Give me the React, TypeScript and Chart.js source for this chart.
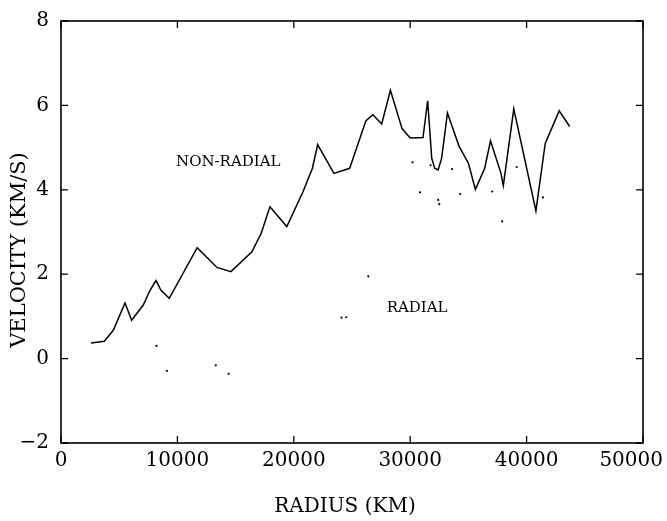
import React, { useEffect, useRef } from "react";
import { Chart, registerables } from "chart.js";

Chart.register(...registerables);

// Non-radial velocity curve (km vs km/s)
const nonRadialRadius = [
  2580, 3720, 4490, 5500, 6070, 7070, 7650, 8160, 8590, 9300,
  11700, 13400, 14600, 16400, 17200, 17950, 19400, 20800, 21600, 22050,
  23450, 24800, 26200, 26800, 27550, 28300, 29300, 30000, 31100, 31500,
  31850, 32100, 32400, 32700, 33200, 34200, 35000, 35600, 36400, 36900,
  37800, 38000, 38900, 40800, 41600, 42800, 43700,
];
const nonRadialVelocity = [
  0.37, 0.41, 0.67, 1.32, 0.91, 1.27, 1.62, 1.85, 1.62, 1.43,
  2.63, 2.16, 2.06, 2.53, 2.97, 3.6, 3.13, 3.96, 4.51, 5.07,
  4.39, 4.51, 5.64, 5.78, 5.56, 6.36, 5.45, 5.23, 5.24, 6.11,
  4.75, 4.51, 4.47, 4.75, 5.82, 5.03, 4.63, 4.01, 4.51, 5.16,
  4.39, 4.1, 5.92, 3.5, 5.1, 5.87, 5.5,
];

// Radial velocity points
const radialRadius = [
  8200, 9100, 13300, 14400, 24100, 24500, 26400, 30200, 30840, 31750,
  32400, 32500, 33600, 34300, 37050, 37900, 39150, 41400,
];
const radialVelocity = [
  0.3, -0.29, -0.16, -0.36, 0.97, 0.98, 1.95, 4.65, 3.94, 4.58,
  3.76, 3.66, 4.49, 3.9, 3.96, 3.25, 4.54, 3.82,
];

// Axis ticks
const xTickValues = [0, 10000, 20000, 30000, 40000, 50000];
const yTickValues = [-2, 0, 2, 4, 6, 8];

// In-plot labels
const labelTexts = ["NON-RADIAL", "RADIAL"];
const labelRadius = [9880, 27980];
const labelVelocity = [4.66, 1.19];

const xTitle = "RADIUS (KM)";
const yTitle = "VELOCITY (KM/S)";

const SERIF = '"DejaVu Serif", serif';

const framePlugin = {
  id: "frameAndText",
  afterDraw(chart: any) {
    const { ctx, chartArea: a, scales } = chart;
    const xs = scales.x;
    const ys = scales.y;
    ctx.save();
    ctx.strokeStyle = "#000";
    ctx.fillStyle = "#000";
    ctx.lineWidth = 1.6;
    ctx.strokeRect(a.left, a.top, a.right - a.left, a.bottom - a.top);

    const tl = 7;
    ctx.lineWidth = 1.3;
    ctx.beginPath();
    for (const v of xTickValues) {
      const px = xs.getPixelForValue(v);
      ctx.moveTo(px, a.bottom);
      ctx.lineTo(px, a.bottom - tl);
      ctx.moveTo(px, a.top);
      ctx.lineTo(px, a.top + tl);
    }
    for (const v of yTickValues) {
      const py = ys.getPixelForValue(v);
      ctx.moveTo(a.left, py);
      ctx.lineTo(a.left + tl, py);
      ctx.moveTo(a.right, py);
      ctx.lineTo(a.right - tl, py);
    }
    ctx.stroke();

    // x tick labels
    ctx.font = "20px " + SERIF;
    ctx.textBaseline = "top";
    ctx.textAlign = "center";
    for (const v of xTickValues) {
      const s = String(v);
      const w = ctx.measureText(s).width;
      let cx = xs.getPixelForValue(v);
      if (cx + w / 2 > chart.width - 4) cx = chart.width - 4 - w / 2;
      ctx.fillText(s, cx, a.bottom + 8);
    }

    // in-plot labels
    ctx.font = "15px " + SERIF;
    ctx.textAlign = "left";
    ctx.textBaseline = "middle";
    labelTexts.forEach((t, i) => {
      ctx.fillText(t, xs.getPixelForValue(labelRadius[i]), ys.getPixelForValue(labelVelocity[i]));
    });

    // axis titles
    ctx.font = "20px " + SERIF;
    ctx.textAlign = "center";
    ctx.textBaseline = "middle";
    ctx.fillText(xTitle, 345, 507);

    ctx.save();
    ctx.translate(19.5, 250);
    ctx.rotate(-Math.PI / 2);
    ctx.font = "21px " + SERIF;
    ctx.fillText(yTitle, 0, 0);
    ctx.restore();

    ctx.restore();
  },
};

export default function App() {
  const ref = useRef<HTMLCanvasElement | null>(null);

  useEffect(() => {
    if (!ref.current) return;
    const chart = new Chart(ref.current, {
      type: "scatter",
      data: {
        datasets: [
          {
            label: "Non-radial",
            data: nonRadialRadius.map((r, i) => ({ x: r, y: nonRadialVelocity[i] })),
            showLine: true,
            borderColor: "#000",
            borderWidth: 1.5,
            pointRadius: 0,
            tension: 0,
          },
          {
            label: "Radial",
            data: radialRadius.map((r, i) => ({ x: r, y: radialVelocity[i] })),
            showLine: false,
            pointRadius: 1.1,
            pointBackgroundColor: "#000",
            pointBorderWidth: 0,
            backgroundColor: "#000",
          },
        ],
      },
      options: {
        animation: false,
        responsive: true,
        maintainAspectRatio: false,
        layout: { padding: { top: 21, right: 24, left: 0, bottom: 0 } },
        plugins: { legend: { display: false }, tooltip: { enabled: false } },
        scales: {
          x: {
            type: "linear",
            min: 0,
            max: 50000,
            grid: { display: false },
            border: { display: false },
            ticks: { display: false, stepSize: 10000 },
            afterFit: (s: any) => {
              s.height = 78;
              s.paddingLeft = 0;
              s.paddingRight = 0;
            },
          },
          y: {
            type: "linear",
            min: -2,
            max: 8,
            grid: { display: false, drawTicks: false },
            border: { display: false },
            ticks: {
              stepSize: 2,
              padding: 12,
              color: "#000",
              font: { family: "DejaVu Serif", size: 20 },
              callback: (v: any) => (Number(v) < 0 ? "\u2212" + Math.abs(Number(v)) : String(v)),
            },
            afterFit: (s: any) => {
              s.width = 61;
              s.paddingTop = 0;
              s.paddingBottom = 0;
            },
          },
        },
      },
      plugins: [framePlugin],
    });
    return () => chart.destroy();
  }, []);

  return (
    <div style={{ position: "fixed", left: 0, top: 0, width: 667, height: 521, background: "#fff" }}>
      <canvas ref={ref} />
    </div>
  );
}
